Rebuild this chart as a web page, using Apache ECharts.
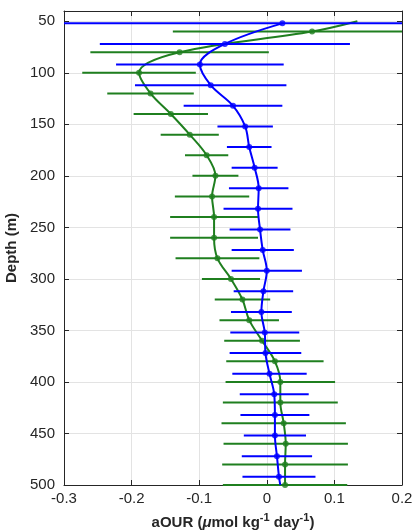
<!DOCTYPE html>
<html>
<head>
<meta charset="utf-8">
<script src="https://cdn.jsdelivr.net/npm/echarts@6/dist/echarts.min.js"></script>
<style>
html,body{margin:0;padding:0;background:#fff;}
#chart{width:417px;height:531px;}
</style>
</head>
<body>
<div id="chart"></div>
<script>
// Blue profile (markers), depth in m
var blueDepth = [52,72,92,112,132,152,172,192,212,232,252,272,292,312,332,352,372,392,412,432,452,472,492];
var blueVal = [0.023,-0.062,-0.099,-0.083,-0.050,-0.032,-0.026,-0.018,-0.012,-0.013,-0.010,-0.006,0.000,-0.005,-0.008,-0.003,-0.002,0.004,0.011,0.012,0.012,0.015,0.018];
var blueErr = [0.36,0.185,0.124,0.112,0.073,0.041,0.033,0.034,0.044,0.051,0.045,0.046,0.052,0.044,0.045,0.051,0.053,0.055,0.051,0.051,0.046,0.052,0.054];
// Green profile (markers)
var greenDepth = [60,80,100,120,140,160,180,200,220,240,260,280,300,320,340,360,380,400,420,440,460,480,500];
var greenVal = [0.067,-0.129,-0.189,-0.172,-0.142,-0.114,-0.089,-0.076,-0.081,-0.078,-0.078,-0.073,-0.053,-0.036,-0.026,-0.007,0.012,0.020,0.020,0.025,0.028,0.027,0.027];
var greenErr = [0.206,0.132,0.084,0.064,0.055,0.043,0.032,0.034,0.055,0.065,0.065,0.062,0.043,0.041,0.044,0.056,0.072,0.081,0.085,0.092,0.092,0.093,0.092];
// Curve end points beyond the markers
var greenLineTop = [0.134, 50];
var blueLineBottom = [0.020, 500];
// Axis ticks
var xTicks = [-0.3,-0.2,-0.1,0,0.1,0.2];
var yTicks = [50,100,150,200,250,300,350,400,450,500];

var BLUE = '#0000ff';
var GREEN = '#1f7f1f';
var AX = '#262626';

function pairs(v, d){ return v.map(function(x,i){ return [x, d[i]]; }); }
function bars(v, e, d){ return v.map(function(x,i){ return [x - e[i], x + e[i], d[i]]; }); }

function errRender(color){
  return function(params, api){
    var cs = params.coordSys;
    var a = api.coord([api.value(0), api.value(2)]);
    var b = api.coord([api.value(1), api.value(2)]);
    var x1 = Math.max(cs.x, Math.min(cs.x + cs.width, a[0]));
    var x2 = Math.max(cs.x, Math.min(cs.x + cs.width, b[0]));
    return {type:'line', shape:{x1:x1, y1:a[1], x2:x2, y2:b[1]}, style:{stroke:color, lineWidth:2}};
  };
}

var greenLine = [greenLineTop].concat(pairs(greenVal, greenDepth));
var blueLine = pairs(blueVal, blueDepth).concat([blueLineBottom]);

var chart = echarts.init(document.getElementById('chart'), null, {renderer:'canvas'});
var font = 'Liberation Sans, Arial, Helvetica, sans-serif';
var baseAxis = {
  type:'value',
  axisLine:{show:true, onZero:false, lineStyle:{color:AX, width:1}},
  axisTick:{show:true, inside:true, length:5, lineStyle:{color:AX, width:1}},
};
chart.setOption({
  animation:false,
  backgroundColor:'#fff',
  grid:{left:64, right:15, top:11, bottom:46, containLabel:false, outerBoundsMode:'none'},
  xAxis:[
    Object.assign({}, baseAxis, {
      position:'bottom', min:xTicks[0], max:xTicks[xTicks.length-1], interval:0.1,
      axisLabel:{color:AX, fontSize:15, fontFamily:font, margin:6,
        formatter:function(v){ return String(Math.round(v*10)/10); }},
      splitLine:{show:true, lineStyle:{color:'#e3e3e3', width:1}},
      name:'{b|aOUR (}{i|\u03bc}{b|mol kg}{s|-1}{b| day}{s|-1}{b|)}',
      nameLocation:'middle', nameGap:27,
      nameTextStyle:{rich:{
        b:{fontSize:15, fontWeight:'bold', color:AX, fontFamily:font, verticalAlign:'bottom', lineHeight:18},
        i:{fontSize:15, fontWeight:'bold', fontStyle:'italic', color:AX, fontFamily:font, verticalAlign:'bottom', lineHeight:18},
        s:{fontSize:11, fontWeight:'bold', color:AX, fontFamily:font, verticalAlign:'top', lineHeight:18, padding:[0,0,0,0]}
      }}
    }),
    Object.assign({}, baseAxis, {
      position:'top', min:xTicks[0], max:xTicks[xTicks.length-1], interval:0.1,
      axisLabel:{show:false}, splitLine:{show:false}
    })
  ],
  yAxis:[
    Object.assign({}, baseAxis, {
      position:'left', inverse:true, min:40, max:yTicks[yTicks.length-1], splitNumber:9,
      axisLabel:{color:AX, fontSize:15, fontFamily:font, margin:9, showMinLabel:false,
        formatter:function(v){ return (v % 50 === 0) ? String(v) : ''; }},
      splitLine:{show:true, lineStyle:{color:'#e3e3e3', width:1}},
      name:'Depth (m)', nameLocation:'middle', nameGap:34,
      nameTextStyle:{fontSize:15, fontWeight:'bold', color:AX, fontFamily:font}
    }),
    Object.assign({}, baseAxis, {
      position:'right', inverse:true, min:40, max:yTicks[yTicks.length-1], splitNumber:9,
      axisLabel:{show:false}, splitLine:{show:false}
    })
  ],
  series:[
    {type:'custom', name:'gerr', data:bars(greenVal, greenErr, greenDepth), encode:{x:[0,1], y:2},
      renderItem:errRender(GREEN), z:2, silent:true},
    {type:'line', data:greenLine, showSymbol:false, smooth:0.35, lineStyle:{color:GREEN, width:2}, z:3, silent:true},
    {type:'scatter', data:pairs(greenVal, greenDepth), symbol:'circle', symbolSize:6, itemStyle:{color:GREEN}, z:4, silent:true},
    {type:'custom', name:'berr', data:bars(blueVal, blueErr, blueDepth), encode:{x:[0,1], y:2},
      renderItem:errRender(BLUE), z:5, silent:true},
    {type:'line', data:blueLine, showSymbol:false, smooth:0.35, lineStyle:{color:BLUE, width:2}, z:6, silent:true},
    {type:'scatter', data:pairs(blueVal, blueDepth), symbol:'circle', symbolSize:6, itemStyle:{color:BLUE}, z:7, silent:true}
  ]
});
</script>
</body>
</html>
